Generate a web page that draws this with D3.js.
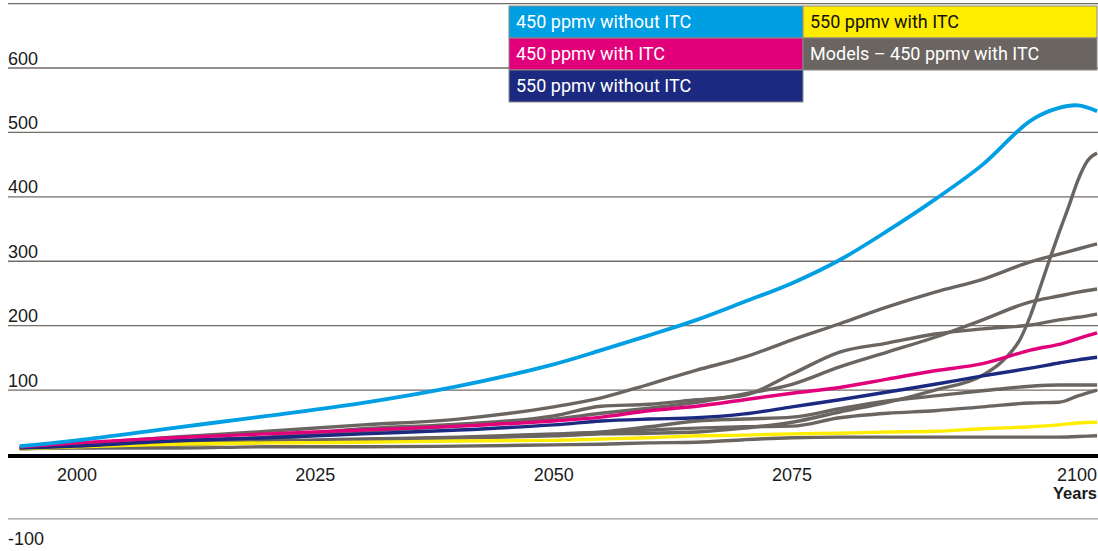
<!DOCTYPE html>
<html>
<head>
<meta charset="utf-8">
<script src="https://cdn.jsdelivr.net/npm/d3@7"></script>
<style>
  html, body { margin: 0; padding: 0; background: #ffffff; }
  svg { display: block; }
</style>
</head>
<body>
<svg id="chart" width="1098" height="551"></svg>
<script>
// ---- data ---------------------------------------------------------------
const years = [1994, 2000, 2010, 2020, 2030, 2040, 2050, 2055, 2060, 2065,
               2070, 2075, 2080, 2085, 2090, 2095, 2100, 2103, 2105, 2107];

const ppm450NoItc  = [13, 22, 41, 60, 80, 106, 140, 162, 185, 209, 237, 266, 302, 347, 396, 450, 518, 538, 542, 533];
const ppm450Itc    = [12, 18, 26, 32, 38, 44, 52, 58, 68, 75, 85, 95, 104, 117, 130, 141, 162, 171, 180, 189];
const ppm550NoItc  = [10, 13, 21, 26, 32, 38, 46, 52, 55, 57, 63, 74, 85, 97, 109, 122, 134, 142, 147, 151];
const ppm550Itc    = [9, 12, 16, 18, 19, 21, 22, 24, 26, 29, 30, 32, 33, 35, 36, 40, 43, 46, 49, 50];

// individual model runs (450 ppmv with ITC)
const modelA = [10, 16, 27, 36, 46, 55, 74, 88, 109, 131, 151, 178, 203, 229, 252, 272, 299, 311, 319, 327];
const modelB = [10, 13, 19, 24, 36, 44, 55, 64, 72, 81, 94, 109, 136, 159, 182, 209, 237, 246, 252, 257];
const modelC = [10, 15, 21, 27, 40, 47, 60, 75, 78, 85, 92, 125, 159, 173, 187, 195, 201, 209, 213, 218];
const modelD = [10, 13, 16, 21, 24, 27, 32, 35, 43, 52, 55, 58, 71, 83, 91, 99, 106, 108, 108, 108];
const modelE = [10, 13, 16, 19, 23, 26, 30, 33, 38, 41, 43, 44, 57, 64, 68, 74, 80, 81, 91, 100];
const modelF = [9, 10, 10, 12, 12, 13, 15, 16, 18, 19, 23, 26, 27, 27, 27, 27, 27, 27, 28, 29];

const yearsSteep = [1994, 2000, 2010, 2020, 2030, 2040, 2050, 2055, 2060, 2065, 2070, 2075, 2080,
                    2085, 2090, 2095, 2097, 2099, 2100, 2101, 2102, 2103, 2104, 2105, 2106, 2107];
const modelG = [9, 12, 15, 19, 23, 26, 29, 32, 33, 35, 41, 50, 66, 81, 100, 123, 144, 181, 215,
                258, 302, 344, 384, 426, 456, 468];

const yTickValues = [700, 600, 500, 400, 300, 200, 100, -100];
const yTickLabels = ["", "600", "500", "400", "300", "200", "100", "-100"];
const xTickYears  = [2000, 2025, 2050, 2075, 2100];
const xTickLabels = ["2000", "2025", "2050", "2075", "2100"];
const xAxisTitle  = "Years";

const legendLabels = ["450 ppmv without ITC", "450 ppmv with ITC", "550 ppmv without ITC",
                      "550 ppmv with ITC", "Models \u2013 450 ppmv with ITC"];

// ---- colours --------------------------------------------------------------
const C_BLUE = "#009fe3", C_PINK = "#e2007a", C_NAVY = "#1b2a80",
      C_YELLOW = "#ffed00", C_GREY = "#6a6561";
const legendColors = [C_BLUE, C_PINK, C_NAVY, C_YELLOW, C_GREY];
const legendText   = ["#ffffff", "#ffffff", "#ffffff", "#111111", "#ffffff"];

// ---- layout ---------------------------------------------------------------
const left = 8, right = 1098;
const svg = d3.select("#chart");

const x = d3.scaleLinear().domain([2000, 2075]).range([77, 792]);
const y = d3.scaleLinear().domain([0, 600]).range([454.5, 68]);

const axisFont = "'Liberation Sans', Arial, Helvetica, sans-serif";
const legendFont = "Roboto, 'Open Sans', sans-serif";

// horizontal grid
svg.append("g").selectAll("line").data(yTickValues).join("line")
  .attr("x1", left).attr("x2", right)
  .attr("y1", d => y(d)).attr("y2", d => y(d))
  .attr("stroke", d => d < 0 ? "#9b9b9b" : "#736d68")
  .attr("stroke-width", 1.4);

// y tick labels: above the line, negative values below it
svg.append("g").selectAll("text").data(yTickValues).join("text")
  .attr("x", left)
  .attr("y", d => d < 0 ? y(d) + 26 : y(d) - 3.5)
  .attr("font-family", axisFont).attr("font-size", 18).attr("fill", "#1a1a1a")
  .text((d, i) => yTickLabels[i]);

// series lines
const greyLine = d3.line()
  .x(d => x(d[0])).y(d => y(d[1]))
  .curve(d3.curveMonotoneX);
const smoothLine = d3.line()
  .x(d => x(d[0])).y(d => y(d[1]))
  .curve(d3.curveCatmullRom.alpha(0.5));

const zipSeries = (yrs, vals) => yrs.map((yr, i) => [yr, vals[i]]);

const greySeries = [
  zipSeries(years, modelF), zipSeries(years, modelE), zipSeries(years, modelD),
  zipSeries(yearsSteep, modelG), zipSeries(years, modelC), zipSeries(years, modelB),
  zipSeries(years, modelA)
];
const colourSeries = [
  { data: zipSeries(years, ppm550Itc),   color: C_YELLOW },
  { data: zipSeries(years, ppm550NoItc), color: C_NAVY },
  { data: zipSeries(years, ppm450Itc),   color: C_PINK },
  { data: zipSeries(years, ppm450NoItc), color: C_BLUE }
];

const lines = svg.append("g").attr("fill", "none")
  .attr("stroke-linejoin", "round").attr("stroke-linecap", "butt");
lines.selectAll("path.grey").data(greySeries).join("path")
  .attr("class", "grey")
  .attr("d", greyLine).attr("stroke", C_GREY).attr("stroke-width", 3.4);
lines.selectAll("path.col").data(colourSeries).join("path")
  .attr("class", "col")
  .attr("d", d => smoothLine(d.data)).attr("stroke", d => d.color)
  .attr("stroke-width", d => d.color === C_BLUE ? 3.8 : 3.4);

// zero axis
svg.append("line")
  .attr("x1", left).attr("x2", right)
  .attr("y1", y(0) + 1.5).attr("y2", y(0) + 1.5)
  .attr("stroke", "#000").attr("stroke-width", 4);

// x tick labels; the last one is right-aligned at the chart edge
const xLab = svg.append("g")
  .attr("font-family", axisFont).attr("font-size", 18).attr("fill", "#1a1a1a");
xLab.selectAll("text").data(xTickYears).join("text")
  .attr("x", (d, i) => i === xTickYears.length - 1 ? right - 1 : x(d))
  .attr("y", y(0) + 26)
  .attr("text-anchor", (d, i) => i === xTickYears.length - 1 ? "end" : "middle")
  .text((d, i) => xTickLabels[i]);
xLab.append("text")
  .attr("x", right - 1).attr("y", y(0) + 44)
  .attr("text-anchor", "end").attr("font-weight", "bold").attr("font-size", 16.5)
  .text(xAxisTitle);

// legend: two columns, three rows in the first
const legX = 509, legY = 6, cellW = 294, cellH = 32;
const cells = svg.append("g").selectAll("g").data(legendLabels).join("g")
  .attr("transform", (d, i) => {
    const col = i < 3 ? 0 : 1, row = i < 3 ? i : i - 3;
    return `translate(${legX + col * cellW},${legY + row * cellH})`;
  });
cells.append("rect")
  .attr("width", cellW).attr("height", cellH)
  .attr("fill", (d, i) => legendColors[i])
  .attr("stroke", "#8c8a88").attr("stroke-width", 1);
cells.append("text")
  .attr("x", 7).attr("y", 22)
  .attr("font-family", legendFont).attr("font-size", 18)
  .attr("fill", (d, i) => legendText[i])
  .text(d => d);
</script>
</body>
</html>
